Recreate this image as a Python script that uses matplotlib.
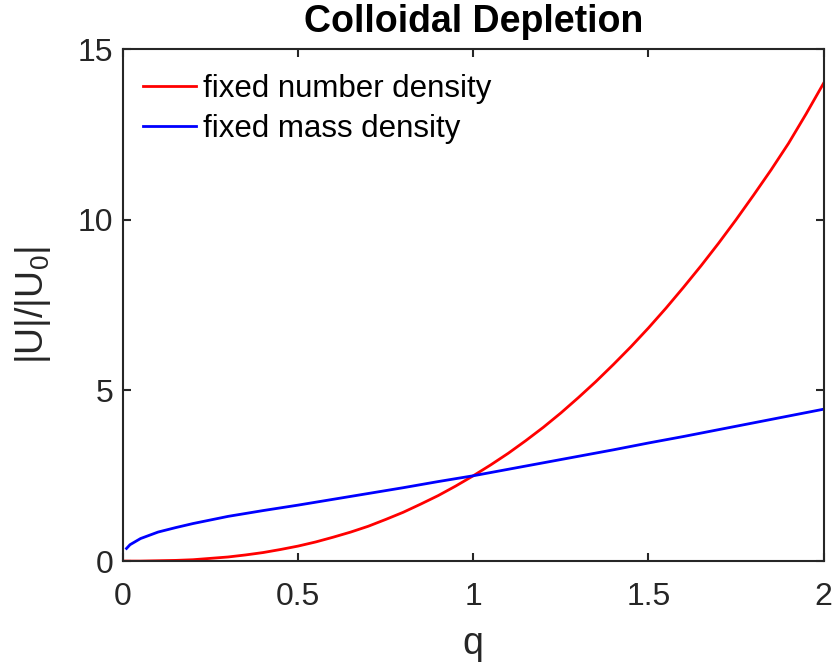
import matplotlib
matplotlib.use("Agg")
import matplotlib.pyplot as plt
from matplotlib.ticker import FormatStrFormatter

# values
q_number = [0.0, 0.05, 0.1, 0.15, 0.2, 0.25, 0.3, 0.35, 0.4, 0.45, 0.5, 0.55, 0.6, 0.65,
            0.7, 0.75, 0.8, 0.85, 0.9, 0.95, 1.0, 1.05, 1.1, 1.15, 1.2, 1.25, 1.3, 1.35,
            1.4, 1.45, 1.5, 1.55, 1.6, 1.65, 1.7, 1.75, 1.8, 1.85, 1.9, 1.95, 2.0]
u_number = [0.0, 0.0, 0.01, 0.02, 0.04, 0.08, 0.12, 0.18, 0.25, 0.34, 0.44, 0.56, 0.70, 0.85,
            1.02, 1.22, 1.43, 1.67, 1.92, 2.20, 2.50, 2.82, 3.16, 3.53, 3.92, 4.34, 4.79, 5.26,
            5.76, 6.28, 6.83, 7.41, 8.02, 8.65, 9.31, 10.0, 10.72, 11.46, 12.24, 13.10, 14.0]

q_mass = [0.01, 0.02, 0.05, 0.1, 0.15, 0.2, 0.3, 0.4, 0.5, 0.6, 0.7, 0.8, 0.9, 1.0,
          1.1, 1.2, 1.3, 1.4, 1.5, 1.6, 1.7, 1.8, 1.9, 2.0]
u_mass = [0.37, 0.48, 0.66, 0.85, 0.98, 1.10, 1.31, 1.48, 1.64, 1.81, 1.98, 2.15, 2.33, 2.50,
          2.69, 2.88, 3.07, 3.26, 3.46, 3.65, 3.85, 4.05, 4.25, 4.45]

plt.rcParams['font.family'] = ['Liberation Sans', 'DejaVu Sans']
axcol = '0.15'

fig = plt.figure(figsize=(8.34, 6.64), dpi=100)
ax = fig.add_axes([0.1475, 0.155, 0.84, 0.771])

ax.plot(q_number, u_number, color='#ff0000', lw=2.0, label='fixed number density')
ax.plot(q_mass, u_mass, color='#0000ff', lw=2.0, label='fixed mass density')

ax.set_xlim(0, 2)
ax.set_ylim(0, 15)
ax.set_xticks([0, 0.5, 1, 1.5, 2])
ax.set_yticks([0, 5, 10, 15])
ax.xaxis.set_major_formatter(FormatStrFormatter('%g'))
ax.tick_params(direction='in', top=True, right=True, length=6, width=1.5,
               labelsize=23, colors=axcol)
ax.tick_params(axis='x', pad=15)
ax.tick_params(axis='y', pad=7)
for s in ax.spines.values():
    s.set_color(axcol)
    s.set_linewidth(1.5)

ax.set_xlabel('q', fontsize=27, color=axcol, labelpad=10)
ax.set_ylabel(r'$\mathregular{|U|/|U_0|}$', fontsize=27, color=axcol, labelpad=18)
ax.set_title('Colloidal Depletion', fontsize=27, fontweight='bold', pad=12)

leg = ax.legend(loc='upper left', bbox_to_anchor=(0.02, 0.963), frameon=False,
                fontsize=22.5, handlelength=1.7, handletextpad=0.2, labelspacing=0.31,
                borderaxespad=0, borderpad=0.2)

fig.savefig('out.png', dpi=100)
